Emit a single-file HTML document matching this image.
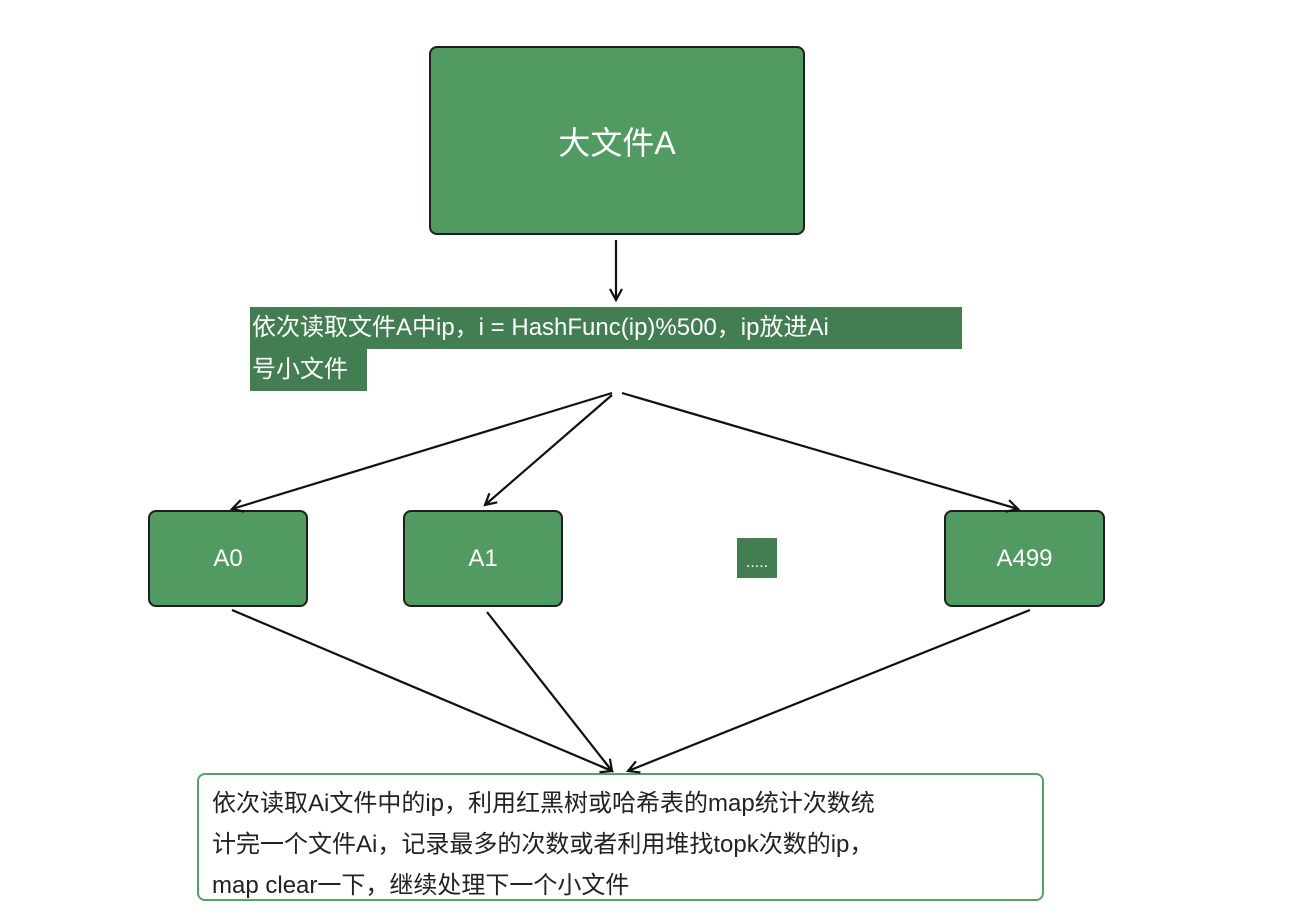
<!DOCTYPE html>
<html><head><meta charset="utf-8"><style>
body{margin:0;background:#fff;width:1303px;height:916px;position:relative;overflow:hidden;font-family:"Liberation Sans","Noto Sans CJK SC",sans-serif}
.b{position:absolute;background:#519a62;border:2px solid #1e1e1e;border-radius:8px;color:#fff;display:flex;align-items:center;justify-content:center;box-sizing:border-box}
.lab{position:absolute;background:#437d52;color:#fff;font-size:24px;line-height:42px;padding:0 2px;white-space:nowrap}
</style></head><body>
<div class="b" style="left:429px;top:46px;width:376px;height:189px;font-size:32px">大文件A</div>
<div class="lab" style="left:250px;top:307px;width:708px">依次读取文件A中ip，i = HashFunc(ip)%500，ip放进Ai</div>
<div class="lab" style="left:250px;top:349px;width:113px">号小文件</div>
<div class="b" style="left:148px;top:510px;width:160px;height:97px;font-size:24px">A0</div>
<div class="b" style="left:403px;top:510px;width:160px;height:97px;font-size:24px">A1</div>
<div style="position:absolute;left:737px;top:538px;width:40px;height:40px;background:#437d52;color:#fff;font-size:16px;text-align:center;line-height:50px">.....</div>
<div class="b" style="left:944px;top:510px;width:161px;height:97px;font-size:24px">A499</div>
<div style="position:absolute;left:197px;top:773px;width:847px;height:128px;border:2px solid #5a9e68;border-radius:8px;box-sizing:border-box;font-size:24px;line-height:41px;padding:8px 0 0 13px;color:#222">依次读取Ai文件中的ip，利用红黑树或哈希表的map统计次数统<br>计完一个文件Ai，记录最多的次数或者利用堆找topk次数的ip，<br>map clear一下，继续处理下一个小文件</div>
<svg width="1303" height="916" style="position:absolute;left:0;top:0" fill="none" stroke="#111" stroke-width="2.2">
<defs><marker id="a" markerWidth="14" markerHeight="14" refX="12" refY="7" orient="auto" markerUnits="userSpaceOnUse"><path d="M1,1 L12,7 L1,13" stroke="#111" stroke-width="2.2" fill="none"/></marker></defs>
<line x1="616" y1="240" x2="616" y2="300" marker-end="url(#a)"/>
<line x1="612" y1="393" x2="232" y2="509" marker-end="url(#a)"/>
<line x1="612" y1="395" x2="485" y2="505" marker-end="url(#a)"/>
<line x1="622" y1="393" x2="1018" y2="509" marker-end="url(#a)"/>
<line x1="232" y1="610" x2="612" y2="771" marker-end="url(#a)"/>
<line x1="487" y1="612" x2="612" y2="771" marker-end="url(#a)"/>
<line x1="1030" y1="610" x2="628" y2="771" marker-end="url(#a)"/>
</svg>
</body></html>
